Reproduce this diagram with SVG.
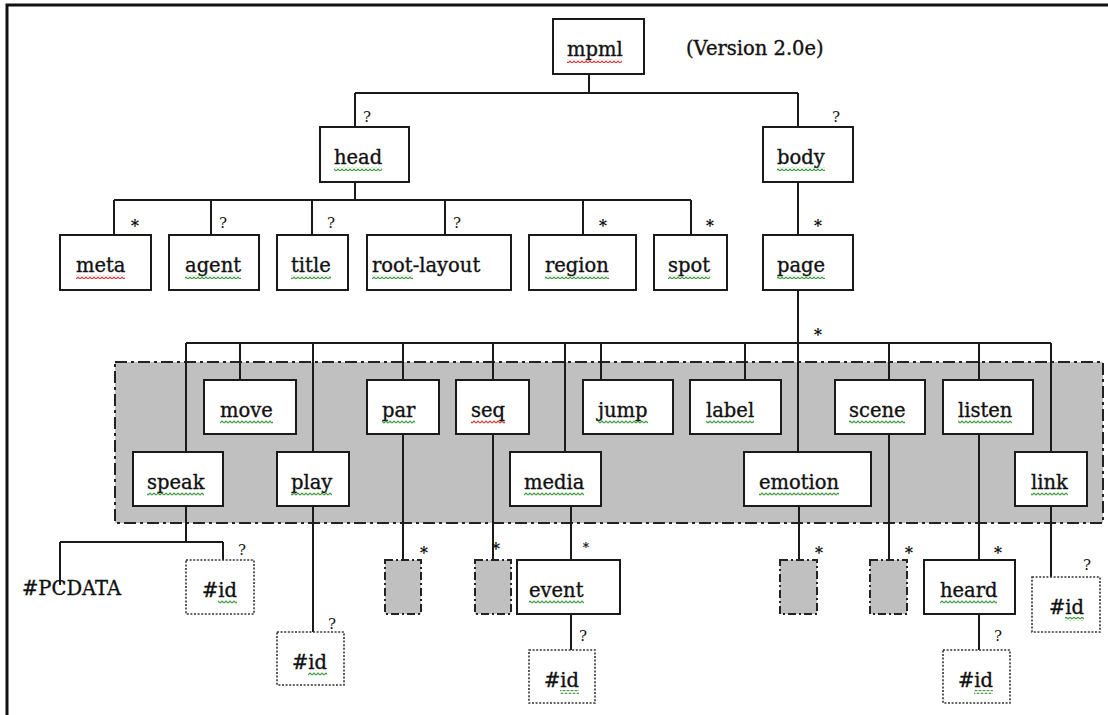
<svg xmlns="http://www.w3.org/2000/svg" width="1108" height="715" viewBox="0 0 1108 715">
<style>
text{font-family:"DejaVu Serif","Liberation Serif",serif;fill:#111}
.t{font-size:19.5px;stroke:#111;stroke-width:0.35}
.m{font-size:16px;text-anchor:middle;font-weight:bold}
.q{font-size:15px;text-anchor:middle}
.box{fill:#fff;stroke:#1a1a1a;stroke-width:2}
.dot{fill:#fff;stroke:#333;stroke-width:1.6;stroke-dasharray:2 1.6}
.gb{fill:#c0c0c0;stroke:#222;stroke-width:2;stroke-dasharray:8 3 2 3}
.c{fill:none;stroke:#1a1a1a;stroke-width:2}
.sg{fill:url(#sqg)}
.sr{fill:url(#sqr)}
</style>
<defs>
<pattern id="sqg" patternUnits="userSpaceOnUse" width="4" height="4"><path d="M0,3 L2,1 L4,3" fill="none" stroke="#3f9a3f" stroke-width="1.2"/></pattern>
<pattern id="sqr" patternUnits="userSpaceOnUse" width="4" height="4"><path d="M0,3 L2,1 L4,3" fill="none" stroke="#d03c3c" stroke-width="1.2"/></pattern>
</defs>
<rect width="1108" height="715" fill="#fff"/>
<path d="M7,715 V5 H1108" fill="none" stroke="#111" stroke-width="3"/>
<g id="band"><rect x="115" y="362" width="988" height="161" fill="#c0c0c0" stroke="#222" stroke-width="2" stroke-dasharray="12 4 3 4"/></g>
<g id="connectors">
<path class="c" d="M589,74 V93 M355,93 H798 M355,93 V127 M798,93 V127"/>
<path class="c" d="M355,182 V200 M114,200 H691 M114,200 V235 M211,200 V235 M312,200 V235 M445,200 V235 M583,200 V235 M691,200 V235"/>
<path class="c" d="M798,182 V235 M798,290 V452 M186,343 H1051"/>
<path class="c" d="M186,343 V452 M240,343 V380 M313,343 V452 M403,343 V380 M493,343 V380 M565,343 V452 M601,343 V380 M745,343 V380 M889,343 V380 M979,343 V380 M1051,343 V452"/>
<path class="c" d="M186,506 V542 M60,542 H223 M60,542 V585 M223,542 V560 M313,506 V632 M403,434 V560 M493,434 V560 M571,506 V560 M571,614 V650 M799,506 V560 M889,434 V560 M979,434 V560 M979,614 V650 M1051,506 V577"/>
<g id="labels">
<text class="q" x="367" y="122">?</text>
<text class="q" x="836" y="122">?</text>
<text class="m" x="135" y="231">*</text>
<text class="q" x="223" y="228">?</text>
<text class="q" x="331" y="228">?</text>
<text class="q" x="457" y="228">?</text>
<text class="m" x="603" y="231">*</text>
<text class="m" x="710" y="231">*</text>
<text class="m" x="818" y="231">*</text>
<text class="m" x="818" y="340">*</text>
<text class="q" x="242" y="555">?</text>
<text class="q" x="332" y="629">?</text>
<text class="m" x="424" y="558">*</text>
<text class="m" x="496" y="554">*</text>
<text class="m" x="586" y="552" style="font-size:12px">*</text>
<text class="q" x="583" y="641">?</text>
<text class="m" x="819" y="558">*</text>
<text class="m" x="909" y="558">*</text>
<text class="m" x="998" y="558">*</text>
<text class="q" x="998" y="641">?</text>
<text class="q" x="1087" y="570">?</text>
</g>
</g>
<g id="version"><text class="t" x="686" y="55">(Version 2.0e)</text></g>
<g id="node-mpml"><rect class="box" x="553" y="19" width="91" height="55"/><text class="t" x="567" y="56">mpml</text><rect class="sr" x="567" y="59" width="55" height="4"/></g>
<g id="node-head"><rect class="box" x="320" y="127" width="89" height="55"/><text class="t" x="334" y="164">head</text><rect class="sg" x="334" y="167" width="48" height="4"/></g>
<g id="node-body"><rect class="box" x="763" y="127" width="90" height="55"/><text class="t" x="777" y="164">body</text><rect class="sg" x="777" y="167" width="48" height="4"/></g>
<g id="node-meta"><rect class="box" x="60" y="235" width="91" height="55"/><text class="t" x="76" y="272">meta</text><rect class="sr" x="76" y="275" width="49" height="4"/></g>
<g id="node-agent"><rect class="box" x="169" y="235" width="90" height="55"/><text class="t" x="185" y="272">agent</text><rect class="sg" x="185" y="275" width="56" height="4"/></g>
<g id="node-title"><rect class="box" x="277" y="235" width="71" height="55"/><text class="t" x="291" y="272">title</text><rect class="sg" x="291" y="275" width="40" height="4"/></g>
<g id="node-root-layout"><rect class="box" x="367" y="235" width="144" height="55"/><text class="t" x="372" y="272">root-layout</text><rect class="sg" x="372" y="275" width="41" height="4"/></g>
<g id="node-region"><rect class="box" x="529" y="235" width="107" height="55"/><text class="t" x="545" y="272">region</text><rect class="sg" x="545" y="275" width="64" height="4"/></g>
<g id="node-spot"><rect class="box" x="654" y="235" width="73" height="55"/><text class="t" x="668" y="272">spot</text><rect class="sg" x="668" y="275" width="42" height="4"/></g>
<g id="node-page"><rect class="box" x="763" y="235" width="90" height="55"/><text class="t" x="777" y="272">page</text><rect class="sg" x="777" y="275" width="48" height="4"/></g>
<g id="node-move"><rect class="box" x="204" y="380" width="92" height="54"/><text class="t" x="220" y="417">move</text><rect class="sg" x="220" y="420" width="53" height="4"/></g>
<g id="node-par"><rect class="box" x="367" y="380" width="72" height="54"/><text class="t" x="382" y="417">par</text><rect class="sg" x="382" y="420" width="33" height="4"/></g>
<g id="node-seq"><rect class="box" x="456" y="380" width="73" height="54"/><text class="t" x="471" y="417">seq</text><rect class="sr" x="471" y="420" width="34" height="4"/></g>
<g id="node-jump"><rect class="box" x="583" y="380" width="90" height="54"/><text class="t" x="598" y="417">jump</text><rect class="sg" x="598" y="420" width="50" height="4"/></g>
<g id="node-label"><rect class="box" x="690" y="380" width="91" height="54"/><text class="t" x="706" y="417">label</text><rect class="sg" x="706" y="420" width="48" height="4"/></g>
<g id="node-scene"><rect class="box" x="835" y="380" width="90" height="54"/><text class="t" x="849" y="417">scene</text><rect class="sg" x="849" y="420" width="56" height="4"/></g>
<g id="node-listen"><rect class="box" x="943" y="380" width="90" height="54"/><text class="t" x="958" y="417">listen</text><rect class="sg" x="958" y="420" width="54" height="4"/></g>
<g id="node-speak"><rect class="box" x="133" y="452" width="90" height="54"/><text class="t" x="147" y="489">speak</text><rect class="sg" x="147" y="492" width="57" height="4"/></g>
<g id="node-play"><rect class="box" x="277" y="452" width="72" height="54"/><text class="t" x="291" y="489">play</text><rect class="sg" x="291" y="492" width="41" height="4"/></g>
<g id="node-media"><rect class="box" x="510" y="452" width="91" height="54"/><text class="t" x="524" y="489">media</text><rect class="sg" x="524" y="492" width="60" height="4"/></g>
<g id="node-emotion"><rect class="box" x="744" y="452" width="127" height="54"/><text class="t" x="759" y="489">emotion</text><rect class="sg" x="759" y="492" width="80" height="4"/></g>
<g id="node-link"><rect class="box" x="1015" y="452" width="72" height="54"/><text class="t" x="1031" y="489">link</text><rect class="sg" x="1031" y="492" width="37" height="4"/></g>
<g id="node-pcdata"><text class="t" x="22" y="595">#PCDATA</text></g>
<g id="node-id-speak"><rect class="dot" x="186" y="560" width="68" height="54"/><text class="t" x="202" y="597">#id</text><rect class="sg" x="218" y="600" width="19" height="4"/></g>
<g id="node-id-play"><rect class="dot" x="277" y="632" width="67" height="53"/><text class="t" x="292" y="669">#id</text><rect class="sg" x="308" y="672" width="19" height="4"/></g>
<g id="node-par-child"><rect class="gb" x="385" y="560" width="36" height="54"/></g>
<g id="node-seq-child"><rect class="gb" x="475" y="560" width="36" height="54"/></g>
<g id="node-event"><rect class="box" x="517" y="560" width="103" height="54"/><text class="t" x="529" y="597">event</text><rect class="sg" x="529" y="600" width="55" height="4"/></g>
<g id="node-id-event"><rect class="dot" x="529" y="650" width="66" height="53"/><text class="t" x="544" y="687">#id</text><rect class="sg" x="560" y="690" width="19" height="4"/></g>
<g id="node-emotion-child"><rect class="gb" x="780" y="560" width="37" height="54"/></g>
<g id="node-scene-child"><rect class="gb" x="870" y="560" width="37" height="54"/></g>
<g id="node-heard"><rect class="box" x="924" y="560" width="91" height="54"/><text class="t" x="940" y="597">heard</text><rect class="sg" x="940" y="600" width="57" height="4"/></g>
<g id="node-id-heard"><rect class="dot" x="943" y="650" width="67" height="53"/><text class="t" x="958" y="687">#id</text><rect class="sg" x="974" y="690" width="19" height="4"/></g>
<g id="node-id-link"><rect class="dot" x="1032" y="577" width="68" height="55"/><text class="t" x="1049" y="614">#id</text><rect class="sg" x="1065" y="617" width="19" height="4"/></g>
</svg>
